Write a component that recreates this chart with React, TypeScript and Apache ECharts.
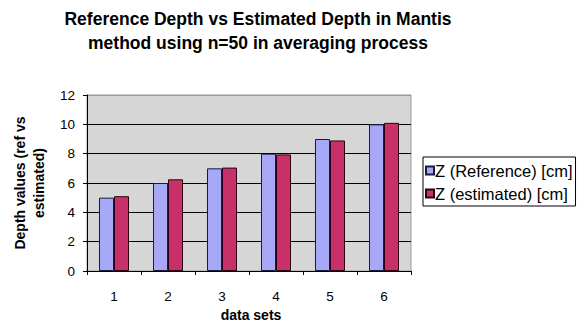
import React, { useEffect, useRef } from "react";
import * as echarts from "echarts";

const categories = ["1", "2", "3", "4", "5", "6"];
const referenceValues = [5, 6, 7, 8, 9, 10];
const estimatedValues = [5.1, 6.25, 7.05, 7.95, 8.9, 10.1];
const seriesNames = ["Z (Reference) [cm]", "Z (estimated) [cm]"];
const titleLines = [
  "Reference Depth vs Estimated Depth in Mantis",
  "method using n=50 in averaging process",
];
const yAxisTitle = "Depth values (ref vs\nestimated)";
const xAxisTitle = "data sets";

const FONT = "Liberation Sans";

export default function App() {
  const ref = useRef<HTMLDivElement>(null);
  useEffect(() => {
    document.body.style.margin = "0";
    if (!ref.current) return;
    const chart = echarts.init(ref.current, undefined, { renderer: "svg" });
    const txt = (size: number, extra: any = {}) => ({
      fontFamily: FONT,
      fontSize: size,
      fontWeight: "bold",
      fill: "#000",
      align: "center",
      verticalAlign: "middle",
      ...extra,
    });
    chart.setOption({
      animation: false,
      backgroundColor: "#ffffff",
      textStyle: { fontFamily: FONT },
      grid: {
        left: 87,
        right: 168,
        top: 95,
        bottom: 63,
        show: true,
        backgroundColor: "#d6d6d6",
        borderColor: "#9a9a9a",
        borderWidth: 1,
      },
      legend: {
        orient: "vertical",
        left: 423,
        top: 157,
        width: 152,
        data: seriesNames,
        backgroundColor: "#ffffff",
        borderColor: "#000000",
        borderWidth: 1,
        padding: [5, 3, 4, 2],
        itemWidth: 8,
        itemHeight: 8,
        itemGap: 6,
        icon: "rect",
        textStyle: { fontFamily: FONT, fontSize: 16.5, color: "#000", padding: [0, 0, 0, -4] },
      },
      xAxis: {
        type: "category",
        data: categories,
        axisLine: { lineStyle: { color: "#000", width: 1 } },
        axisTick: { show: true, length: 4, lineStyle: { color: "#000" } },
        axisLabel: { color: "#000", fontSize: 13.5, margin: 18, fontFamily: FONT },
      },
      yAxis: {
        type: "value",
        min: 0,
        max: 12,
        interval: 2,
        axisLine: { show: true, lineStyle: { color: "#000", width: 1 } },
        axisTick: { show: true, length: 4, lineStyle: { color: "#000" } },
        axisLabel: { color: "#000", fontSize: 13.5, margin: 12, fontFamily: FONT },
        splitLine: {
          show: true,
          lineStyle: {
            color: ["#000", "#000", "#000", "#000", "#000", "#000", "#9a9a9a"],
            width: 1,
          },
        },
      },
      series: [
        {
          name: seriesNames[0],
          type: "bar",
          data: referenceValues,
          barWidth: 15,
          barGap: "0%",
          itemStyle: { color: "#a8a8f8", borderColor: "#1a1a3a", borderWidth: 1 },
        },
        {
          name: seriesNames[1],
          type: "bar",
          data: estimatedValues,
          barWidth: 15,
          barGap: "0%",
          itemStyle: { color: "#c8306a", borderColor: "#2a0010", borderWidth: 1 },
        },
      ],
      graphic: [
        {
          type: "text",
          x: 258,
          y: 19,
          style: { text: titleLines[0], ...txt(17.5) },
        },
        {
          type: "text",
          x: 258,
          y: 43,
          style: { text: titleLines[1], ...txt(17.5) },
        },
        {
          type: "text",
          x: 29,
          y: 183,
          rotation: Math.PI / 2,
          style: { text: yAxisTitle, ...txt(14, { lineHeight: 19 }) },
        },
        {
          type: "text",
          x: 251,
          y: 315,
          style: { text: xAxisTitle, ...txt(14) },
        },
      ],
    });
    return () => chart.dispose();
  }, []);
  return <div ref={ref} style={{ width: 579, height: 334 }} />;
}
